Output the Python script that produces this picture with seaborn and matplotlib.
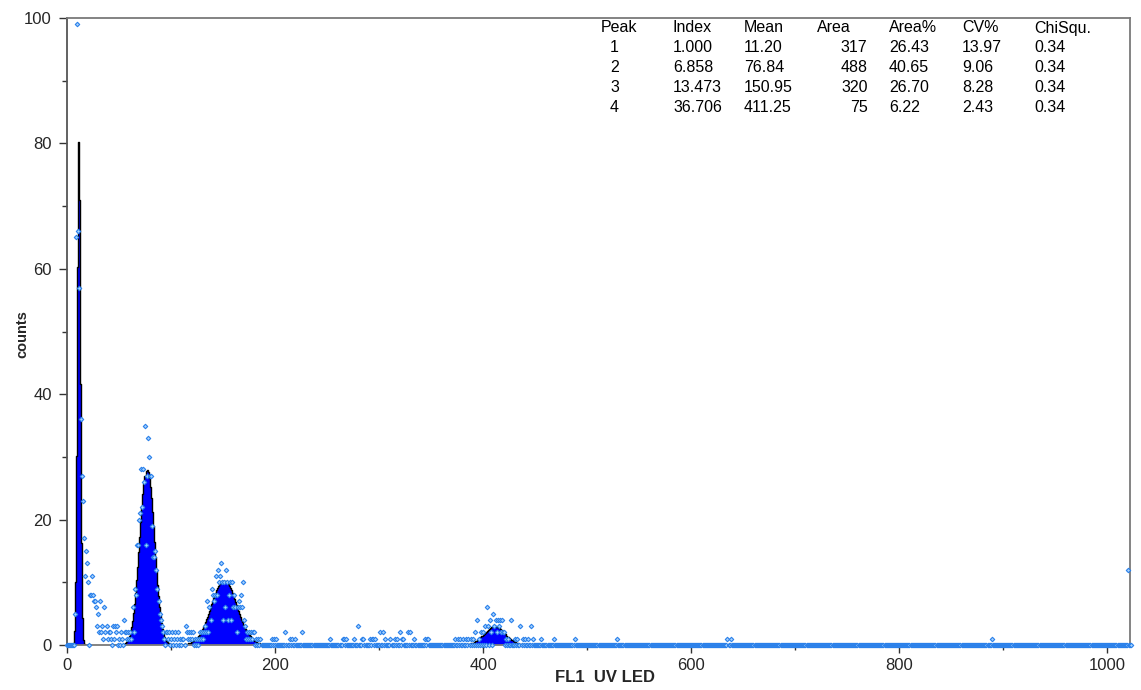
import numpy as np
import pandas as pd
import matplotlib
matplotlib.use("Agg")
import matplotlib.pyplot as plt
import seaborn as sns

# ---------------- data ----------------
# Peak fit table
peak_ids = [1, 2, 3, 4]
peak_index = ["1.000", "6.858", "13.473", "36.706"]
peak_mean = [11.20, 76.84, 150.95, 411.25]
peak_area = [317, 488, 320, 75]
peak_area_pct = [26.43, 40.65, 26.70, 6.22]
peak_cv = [13.97, 9.06, 8.28, 2.43]
peak_chisq = [0.34, 0.34, 0.34, 0.34]
table_headers = ["Peak", "Index", "Mean", "Area", "Area%", "CV%", "ChiSqu."]

# Raw histogram: channels with non-zero counts (all other channels are 0)
n_channels = 1024
hit_channels = [
    8, 9, 10, 11, 12, 13, 14, 15, 16, 17, 18, 19, 20, 22, 23, 24, 25, 26, 27, 28,
    29, 30, 31, 32, 33, 34, 35, 36, 37, 38, 39, 40,
    41, 42, 44, 45, 46, 47, 48, 50, 52, 53, 55, 56, 57, 58, 59, 60, 61, 62,
    63, 64, 65, 66, 67, 68, 69, 70, 71, 72, 73, 74, 75, 76, 77, 78, 79, 80,
    81, 82, 83, 84, 85, 86, 87, 88, 89, 90, 91, 92, 93, 95, 96, 97, 98, 100,
    101, 103, 104, 106, 107, 109, 111, 112, 114, 115, 116, 117, 118, 119, 120,
    121, 123, 125,
    127, 128, 129, 130, 131, 132, 133, 134, 135, 136, 137, 138, 139, 140, 141,
    142, 143, 144, 145, 146, 147, 148, 149, 150, 151, 152, 153, 154, 155, 156,
    157, 158, 159, 160, 161, 162, 163, 164, 165, 166, 167, 168, 169, 170, 171,
    172, 173, 174, 175, 176, 177, 178, 179, 180, 182, 184, 186,
    197, 199, 201, 210, 214, 216, 219, 226,
    253, 265, 266, 268, 276, 280, 284, 285, 291, 293, 294, 296, 301, 304, 306,
    311, 315, 317, 320, 322, 323, 328, 330, 334, 344, 346, 347, 373, 376, 378,
    381, 384,
    386, 388, 390, 392, 394, 396, 398, 400, 402, 404, 405, 407, 408, 410, 411,
    412, 413, 414, 415, 416, 417, 418, 419, 420, 422, 424, 427, 431, 433, 436,
    438, 440, 443, 446, 448, 456, 468, 488, 529, 635, 638, 889, 1020,
]
hit_counts = [
    5, 65, 99, 66, 57, 36, 27, 23, 17, 11, 15, 13, 10, 8, 8, 11, 8, 7, 7, 6,
    3, 5, 2, 7, 2, 3, 1, 6, 2, 3, 1, 2,
    2, 1, 3, 1, 3, 2, 3, 1, 2, 1, 4, 2, 2, 1, 2, 1, 2, 1,
    6, 2, 9, 8, 16, 16, 20, 21, 28, 22, 28, 26, 35, 16, 27, 33, 30, 27,
    27, 19, 14, 14, 15, 12, 9, 7, 5, 4, 3, 2, 1, 2, 2, 1, 2, 1,
    2, 1, 2, 1, 2, 1, 1, 1, 3, 2, 1, 2, 1, 2, 1,
    2, 1, 1,
    1, 2, 1, 2, 1, 2, 3, 2, 7, 2, 6, 4, 9, 8, 7,
    8, 11, 8, 12, 10, 11, 13, 10, 4, 10, 6, 12, 10, 4, 8,
    10, 4, 10, 6, 8, 6, 2, 6, 7, 6, 8, 6, 10, 4, 3,
    1, 2, 1, 2, 1, 2, 1, 2, 2, 1, 1, 1,
    1, 1, 1, 2, 1, 1, 1, 2,
    1, 1, 1, 1, 1, 3, 1, 1, 1, 1, 1, 1, 2, 2, 1,
    1, 1, 1, 2, 1, 1, 2, 2, 1, 1, 1, 1, 1, 1, 1,
    1, 1,
    1, 1, 1, 2, 4, 1, 2, 2, 3, 6, 3, 4, 2, 5, 3,
    4, 2, 4, 3, 4, 2, 4, 2, 2, 1, 1, 4, 1, 1, 3,
    1, 1, 1, 3, 1, 1, 1, 1, 1, 1, 1, 1, 12,
]

x_ticks = [0, 200, 400, 600, 800, 1000]
y_ticks = [0, 20, 40, 60, 80, 100]
x_label = "FL1  UV LED"
y_label = "counts"

# ---------------- figure ----------------
W, H = 1141, 690
sns.set_style("ticks")
plt.rcParams["font.family"] = ["Liberation Sans", "DejaVu Sans"]

fig = plt.figure(figsize=(W / 100, H / 100), dpi=100)
ax = fig.add_axes([67 / W, 1 - 645 / H, (1130 - 67) / W, (645 - 18) / H])

# Gaussian fits defined by the table (mean, CV, area)
for m, cv, area in zip(peak_mean, peak_cv, peak_area):
    sd = m * cv / 100.0
    h = area / (sd * np.sqrt(2 * np.pi))
    xs = np.arange(int(np.floor(m - 4.5 * sd)), int(np.ceil(m + 4.5 * sd)) + 1)
    ys = h * np.exp(-0.5 * ((xs - m) / sd) ** 2)
    ax.fill_between(xs, 0, ys, step="mid", color="#0000ff", linewidth=0, zorder=2)
    ax.step(xs, ys, where="mid", color="black", linewidth=1.0, zorder=2.5)

# raw data points
counts = np.zeros(n_channels)
counts[np.array(hit_channels)] = hit_counts
df = pd.DataFrame({"channel": np.arange(n_channels), "count": counts})
sns.scatterplot(data=df, x="channel", y="count", ax=ax, marker="D", s=5,
                facecolor="#a9d4ff", edgecolor="#2a80ea", linewidth=0.8,
                zorder=3, clip_on=False, legend=False)

ax.set_xlim(0, 1022)
ax.set_ylim(0, 100)
ax.set_xticks(x_ticks)
ax.set_yticks(y_ticks)
ax.set_xticks([100, 300, 500, 700, 900], minor=True)
ax.set_yticks([10, 30, 50, 70, 90], minor=True)
ax.tick_params(axis="both", which="major", length=6, width=1, color="#333333",
               labelsize=12, pad=3, direction="out")
ax.tick_params(axis="both", which="minor", length=3.5, width=1, color="#333333",
               direction="out")
ax.tick_params(axis="y", pad=5)

for side in ["top", "right", "bottom"]:
    ax.spines[side].set_color("#7a7a7a")
    ax.spines[side].set_linewidth(1.3)
ax.spines["left"].set_color("#555555")
ax.spines["left"].set_linewidth(1.3)

ax.set_xlabel(x_label, fontsize=12, fontweight="bold")
ax.set_ylabel(y_label, fontsize=10.5, fontweight="bold")
ax.xaxis.set_label_coords((605 - 67) / (1130 - 67), (645 - 678) / (645 - 18))
ax.xaxis.label.set_va("center")
ax.yaxis.set_label_coords((22 - 67) / (1130 - 67), (645 - 334) / (645 - 18))
ax.yaxis.label.set_va("center")

# table of peak statistics
fs = 11.5
def ftxt(x, y, s, ha="left"):
    fig.text(x / W, 1 - y / H, s, ha=ha, va="center", fontsize=fs, color="black")

hx = [601, 673, 744, 817, 889, 962, 1034]
for x, s in zip(hx, table_headers):
    ftxt(x, 28, s)
for i in range(len(peak_ids)):
    y = 48 + 20 * i
    ftxt(619, y, f"{peak_ids[i]}", ha="right")
    ftxt(673, y, peak_index[i])
    ftxt(744, y, f"{peak_mean[i]:.2f}")
    ftxt(867.5, y, f"{peak_area[i]}", ha="right")
    ftxt(889, y, f"{peak_area_pct[i]:.2f}")
    ftxt(962, y, f"{peak_cv[i]:.2f}")
    ftxt(1034, y, f"{peak_chisq[i]:.2f}")

fig.savefig("out.png", dpi=100)
